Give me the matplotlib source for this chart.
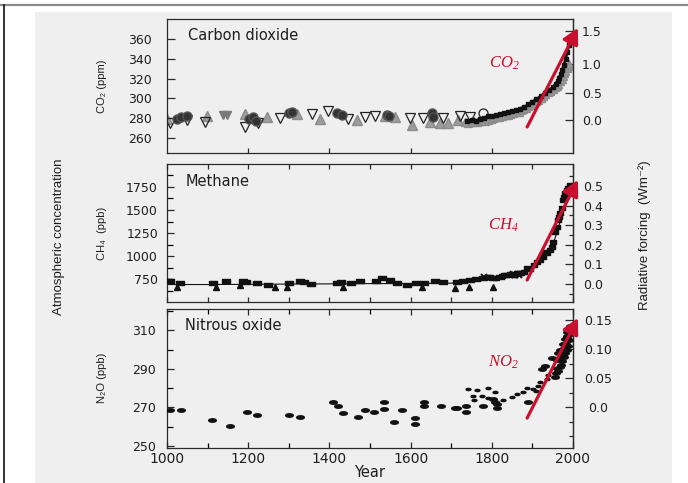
import numpy as np
import matplotlib
matplotlib.use("Agg")
import matplotlib.pyplot as plt
from matplotlib.path import Path
from matplotlib.transforms import Affine2D
from matplotlib.lines import Line2D
from matplotlib.patches import Rectangle
from matplotlib.ticker import MultipleLocator, FixedLocator

# ---------------------------------------------------------------- data
# Carbon dioxide (ppm)
co2_circle_year = [1025, 1035, 1049, 1203, 1212, 1219, 1300, 1308, 1419, 1430, 1541, 1548, 1653, 1656]
co2_circle_ppm = [279, 281, 282, 279, 281, 277, 285, 286, 285, 283, 283, 282, 285, 281]
co2_opentri_year = [1007, 1049, 1094, 1192, 1224, 1278, 1357, 1397, 1446, 1488, 1512,
                    1598, 1631, 1680, 1722, 1746]
co2_opentri_ppm = [275, 278, 276, 271, 275, 280, 284, 287, 279, 281, 282, 280, 280, 280, 282, 281]
co2_grayinv_year = [1138, 1148]
co2_grayinv_ppm = [283, 283]
co2_graytri_year = [1000, 1098, 1192, 1246, 1320, 1377, 1468, 1537, 1562, 1603, 1647, 1672, 1692, 1717]
co2_graytri_ppm = [279, 282, 284, 281, 284, 279, 278, 282, 281, 273, 276, 275, 275, 278]
co2_opencircle_year = [1778]
co2_opencircle_ppm = [285]
co2_recent_gray_year = [1735, 1742, 1750, 1757, 1763, 1770, 1776, 1783, 1790, 1797, 1804, 1811,
                        1818, 1825, 1832, 1839, 1846, 1853, 1860, 1866, 1872, 1878, 1884, 1890,
                        1896, 1902, 1908, 1914, 1920, 1926, 1932, 1938, 1944, 1950, 1955, 1960,
                        1964, 1968, 1972, 1975, 1978, 1981, 1984, 1987, 1990]
co2_recent_gray_ppm = [276, 275, 276, 277, 276, 277, 278, 277, 278, 279, 280, 281,
                       281, 282, 283, 283, 284, 285, 286, 286, 288, 289, 290, 292,
                       293, 295, 297, 298, 300, 302, 304, 306, 307, 309, 311, 313,
                       315, 318, 320, 323, 326, 328, 331, 333, 335]
co2_recent_black_year = [1740, 1750, 1760, 1770, 1780, 1790, 1800, 1810, 1820, 1830, 1840, 1850,
                         1860, 1870, 1880, 1890, 1900, 1910, 1920, 1930, 1940, 1950, 1958,
                         1962, 1966, 1970, 1974, 1978, 1982, 1986, 1990, 1994]
co2_recent_black_ppm = [277, 278, 277, 279, 280, 282, 282, 283, 284, 285, 286, 287,
                        288, 289, 291, 294, 296, 299, 302, 305, 308, 311, 315,
                        318, 321, 325, 329, 334, 340, 347, 354, 360]

# Methane (ppb)
ch4_square_year = [1002, 1008, 1032, 1113, 1145, 1187, 1195, 1221, 1249, 1301, 1328, 1337, 1354,
                   1419, 1428, 1453, 1475, 1516, 1529, 1549, 1566, 1590, 1614, 1634, 1660, 1681,
                   1714, 1730, 1746, 1762, 1779, 1790, 1803, 1820, 1832, 1853, 1869]
ch4_square_ppb = [728, 728, 707, 707, 728, 728, 720, 707, 685, 707, 728, 715, 696,
                  707, 718, 707, 728, 728, 761, 739, 707, 685, 707, 707, 728, 715,
                  717, 728, 739, 750, 761, 770, 761, 772, 794, 794, 815]
ch4_tri_year = [1024, 1121, 1180, 1266, 1295, 1434, 1628, 1710, 1743, 1803]
ch4_tri_ppb = [660, 660, 680, 660, 660, 660, 665, 655, 665, 665]
ch4_cross_year = [1780, 1851, 1858, 1866]
ch4_cross_ppb = [772, 806, 790, 795]
ch4_recent_year = [1795, 1810, 1825, 1835, 1845, 1855, 1862, 1870, 1880, 1887, 1895, 1905, 1911,
                   1918, 1926, 1931, 1937, 1943, 1948, 1951, 1956, 1960, 1963, 1966, 1968, 1972,
                   1975, 1978, 1981, 1985, 1988, 1992]
ch4_recent_ppb = [770, 760, 780, 790, 800, 795, 810, 820, 830, 870, 860, 900, 935,
                  960, 990, 1045, 1030, 1065, 1100, 1150, 1260, 1315, 1390, 1420, 1470, 1520,
                  1610, 1640, 1680, 1720, 1740, 1770]
ch4_fit_year = [1000, 1100, 1200, 1300, 1400, 1500, 1600, 1700, 1750, 1800, 1850, 1875, 1900,
                1925, 1950, 1960, 1970, 1980, 1990, 1995]
ch4_fit_ppb = [690, 690, 692, 695, 697, 700, 700, 705, 720, 745, 790, 830, 880,
               960, 1120, 1250, 1400, 1550, 1690, 1750]

# Nitrous oxide (ppb)
n2o_year = [1007, 1034, 1111, 1155, 1197, 1222, 1301, 1328, 1410, 1422, 1434, 1471, 1488, 1510,
            1535, 1535, 1559, 1579, 1611, 1611, 1633, 1633, 1675, 1709, 1714, 1736, 1736, 1778,
            1803, 1808, 1812, 1814, 1890]
n2o_ppb = [268.6, 268.6, 263.3, 260.4, 267.6, 265.9, 266.0, 264.9, 272.6, 270.5, 266.9, 264.9,
           268.5, 267.4, 272.6, 269.0, 262.3, 268.5, 264.4, 261.3, 272.6, 271.0, 271.0, 269.5,
           269.5, 270.5, 267.9, 271.0, 274.4, 272.8, 269.5, 271.6, 273.0]
n2o_small_year = [1741, 1754, 1757, 1763, 1776, 1791, 1791, 1808, 1828, 1850, 1863, 1877, 1887,
                  1902, 1908, 1914, 1919, 1936, 1938, 1953, 1971]
n2o_small_ppb = [279.5, 276.0, 274.0, 279.0, 276.0, 280.3, 275.0, 278.0, 274.0, 275.5, 277.0,
                 278.0, 280.3, 279.5, 278.7, 281.0, 283.0, 284.6, 287.0, 290.5, 291.3]
n2o_recent_year = [1923, 1931, 1948, 1955, 1958, 1960, 1962, 1964, 1966, 1967, 1968, 1970, 1972,
                   1973, 1974, 1975, 1976, 1977, 1978, 1979, 1980, 1981, 1982, 1984, 1984, 1985,
                   1986, 1987, 1988, 1990, 1990, 1992, 1993, 1993, 1994]
n2o_recent_ppb = [289.7, 291.3, 295.7, 286.0, 288.0, 294.8, 289.0, 298.4, 295.0, 291.0, 300.0,
                  292.0, 298.0, 294.0, 300.0, 297.0, 302.8, 296.0, 301.0, 299.0, 305.3, 298.0,
                  303.0, 300.0, 306.0, 308.9, 307.0, 302.0, 310.5, 305.0, 309.0, 311.5, 308.0,
                  312.0, 310.0]

# Red trend arrows: start/end year and value for each gas
arrow_year = [1887, 2012]
co2_arrow = [271.2, 371.0]
ch4_arrow = [739, 1826]
n2o_arrow = [264.5, 316.3]

# Tick values
co2_ticks = [260, 280, 300, 320, 340, 360]
ch4_ticks = [750, 1000, 1250, 1500, 1750]
ch4_minor = [625, 875, 1125, 1375, 1625, 1875]
n2o_ticks = [250, 270, 290, 310]
n2o_minor = [260, 280, 300, 320]
year_ticks = [1000, 1200, 1400, 1600, 1800, 2000]
co2_rf_ticks = [0.0, 0.5, 1.0, 1.5]
ch4_rf_ticks = [0.0, 0.1, 0.2, 0.3, 0.4, 0.5]
n2o_rf_ticks = [0.0, 0.05, 0.10, 0.15]
co2_rf_labels = ["0.0", "0.5", "1.0", "1.5"]
ch4_rf_labels = ["0.0", "0.1", "0.2", "0.3", "0.4", "0.5"]
n2o_rf_labels = ["0.0", "0.05", "0.10", "0.15"]

# ---------------------------------------------------------------- style
plt.rcParams["font.family"] = ["DejaVu Sans"]
# math text is only used for the red italic serif gas labels
plt.rcParams["mathtext.fontset"] = "custom"
plt.rcParams["mathtext.rm"] = "Liberation Serif:italic"
plt.rcParams["mathtext.it"] = "Liberation Serif:italic"
W, H = 688, 483
BG = "#efefef"
INK = "#1e1e1e"
SPINE = "#2a2a2a"
RED = "#c8102e"
SANS_LIST = ["Liberation Sans", "DejaVu Sans"]

fig = plt.figure(figsize=(W / 100, H / 100), dpi=100)
fig.patch.set_facecolor("white")

# page background and frame lines (kept underneath the axes)
fig.patches.append(Rectangle((35 / W, 0), (672 - 35) / W, 1 - 12 / H,
                             transform=fig.transFigure, facecolor=BG,
                             edgecolor="none", zorder=-10))
fig.lines.append(Line2D([0, 1], [1 - 5 / H, 1 - 5 / H], transform=fig.transFigure,
                        color="#8a8a8a", lw=1.6, zorder=-5))
fig.lines.append(Line2D([4 / W, 4 / W], [0, 1 - 5 / H], transform=fig.transFigure,
                        color="#111111", lw=1.2, zorder=-5))

ELLIPSE = Path.unit_circle().transformed(Affine2D().scale(1.0, 0.45))
RECT = Path([(-1, -0.65), (1, -0.65), (1, 0.65), (-1, 0.65), (-1, -0.65)],
            [Path.MOVETO, Path.LINETO, Path.LINETO, Path.LINETO, Path.CLOSEPOLY])

LEFT, RIGHT = 167, 573


def panel(top, bottom):
    ax = fig.add_axes([LEFT / W, 1 - bottom / H, (RIGHT - LEFT) / W, (bottom - top) / H])
    ax.set_facecolor(BG)
    for s in ax.spines.values():
        s.set_color(SPINE)
        s.set_linewidth(0.9)
    ax.set_xlim(1000, 2000)
    ax.tick_params(colors=SPINE, labelcolor=INK, width=0.9)
    return ax


def forcing_axis(ax, fwd, inv, ticks, labels, pad, minor=None):
    sec = ax.secondary_yaxis("right", functions=(fwd, inv))
    sec.spines["right"].set_color(SPINE)
    sec.spines["right"].set_linewidth(0.9)
    sec.yaxis.set_major_locator(FixedLocator(ticks))
    sec.set_yticklabels(labels)
    if minor is not None:
        sec.yaxis.set_minor_locator(FixedLocator(minor))
        sec.tick_params(which="minor", direction="in", length=3, width=0.9, colors=SPINE)
    sec.tick_params(which="major", direction="in", length=6, width=0.9, pad=pad,
                    labelsize=9, colors=SPINE, labelcolor=INK)
    for lab in sec.get_yticklabels():
        lab.set_horizontalalignment("center")
    return sec


def trend_arrow(ax, values, label, label_xy):
    ax.annotate("", xy=(arrow_year[1], values[1]), xytext=(arrow_year[0], values[0]),
                xycoords="data", textcoords="data", annotation_clip=False,
                arrowprops=dict(arrowstyle="-|>,head_length=0.85,head_width=0.45",
                                mutation_scale=11, color=RED, lw=2.3,
                                shrinkA=0, shrinkB=0), zorder=10)
    ax.text(label_xy[0], label_xy[1], label, color=RED, fontsize=12,
            ha="center", va="center", zorder=10)


# ---------------------------------------------------------------- carbon dioxide
ax1 = panel(19, 153)
ax1.set_ylim(245, 380)
ax1.plot(co2_recent_gray_year, co2_recent_gray_ppm, "^", color="#9c9c9c", ms=5.5, mec="#8c8c8c", zorder=2)
ax1.plot(co2_graytri_year, co2_graytri_ppm, "^", color="#9c9c9c", ms=6.5, mec="#8c8c8c", zorder=2)
ax1.plot(co2_grayinv_year, co2_grayinv_ppm, "v", color="#7a7a7a", ms=6, zorder=2)
ax1.plot(co2_opentri_year, co2_opentri_ppm, "v", mfc="none", mec="#222222", mew=0.9, ms=7.5, zorder=3)
ax1.plot(co2_circle_year, co2_circle_ppm, "o", color="#333333", mec="#555555", ms=6.5, zorder=3)
ax1.plot(co2_opencircle_year, co2_opencircle_ppm, "o", mfc="none", mec="#222222", mew=0.9, ms=6.5, zorder=3)
ax1.plot(co2_recent_black_year, co2_recent_black_ppm, "-", color="#111111", lw=2.0, zorder=4)
ax1.plot(co2_recent_black_year, co2_recent_black_ppm, "s", color="#111111", ms=2.5, zorder=4)
ax1.set_yticks(co2_ticks)
ax1.set_xticks([1200, 1400, 1600, 1800])
ax1.tick_params(axis="x", direction="in", length=3.5, labelbottom=False)
ax1.tick_params(axis="y", direction="in", length=6, pad=11, labelsize=9, right=False)
ax1.text(0.052, 0.88, "Carbon dioxide", transform=ax1.transAxes, fontsize=10.5,
         color=INK, va="center", ha="left")
forcing_axis(ax1,
             lambda c: 5.35 * np.log(np.clip(np.asarray(c, float), 1e-6, None) / 278.0),
             lambda f: 278.0 * np.exp(np.asarray(f, float) / 5.35),
             co2_rf_ticks, co2_rf_labels, pad=13.5)
trend_arrow(ax1, co2_arrow, "$CO_2$", (1830, 335.7))

# ---------------------------------------------------------------- methane
ax2 = panel(164, 302)
ax2.set_ylim(500, 2000)
ax2.plot(ch4_fit_year, ch4_fit_ppb, "-", color="#111111", lw=0.8, zorder=2)
ax2.plot(ch4_square_year, ch4_square_ppb, marker=RECT, ls="none", color="#111111", ms=5.5, zorder=3)
ax2.plot(ch4_tri_year, ch4_tri_ppb, "^", color="#111111", ms=4.5, zorder=3)
ax2.plot(ch4_cross_year, ch4_cross_ppb, "x", color="#111111", ms=5, mew=1.4, zorder=3)
ax2.plot(ch4_recent_year, ch4_recent_ppb, marker=RECT, ls="none", color="#111111", ms=5, zorder=3)
ax2.set_yticks(ch4_ticks)
ax2.yaxis.set_minor_locator(FixedLocator(ch4_minor))
ax2.xaxis.set_major_locator(MultipleLocator(100))
ax2.tick_params(axis="x", direction="in", length=3.5, top=True, bottom=True, labelbottom=False)
ax2.tick_params(axis="y", which="major", direction="in", length=5, pad=6.5, labelsize=9, right=False)
ax2.tick_params(axis="y", which="minor", direction="in", length=4, width=0.9, right=False)
ax2.text(0.047, 0.87, "Methane", transform=ax2.transAxes, fontsize=10.5,
         color=INK, va="center", ha="left")
forcing_axis(ax2, lambda c: (np.asarray(c, float) - 696.0) / 2130.0,
             lambda f: np.asarray(f, float) * 2130.0 + 696.0,
             ch4_rf_ticks, ch4_rf_labels, pad=14.5,
             minor=[-0.05, 0.05, 0.15, 0.25, 0.35, 0.45, 0.55])
trend_arrow(ax2, ch4_arrow, "$CH_4$", (1828, 1337))

# ---------------------------------------------------------------- nitrous oxide
ax3 = panel(309, 448)
ax3.set_ylim(249, 321)
ax3.plot(n2o_year, n2o_ppb, marker=ELLIPSE, ls="none", color="#111111", ms=5.5, zorder=3)
ax3.plot(n2o_small_year, n2o_small_ppb, marker=ELLIPSE, ls="none", color="#111111", ms=3.5, zorder=3)
ax3.plot(n2o_recent_year, n2o_recent_ppb, marker=ELLIPSE, ls="none", color="#111111", ms=5.5, zorder=3)
ax3.set_yticks(n2o_ticks)
ax3.yaxis.set_minor_locator(FixedLocator(n2o_minor))
ax3.set_xticks(year_ticks)
ax3.set_xticklabels([str(y) for y in year_ticks])
ax3.xaxis.set_minor_locator(MultipleLocator(100))
ax3.tick_params(axis="x", which="both", direction="in", top=True, bottom=True)
ax3.tick_params(axis="x", which="major", length=4, pad=3, labelsize=10)
ax3.tick_params(axis="x", which="minor", length=3.5, width=0.9)
ax3.tick_params(axis="y", which="major", direction="in", length=5, pad=8, labelsize=9, right=False)
ax3.tick_params(axis="y", which="minor", direction="in", length=4, width=0.9, right=False)
ax3.set_xlabel("Year", fontsize=10.5, color=INK, labelpad=-1)
ax3.text(0.044, 0.878, "Nitrous oxide", transform=ax3.transAxes, fontsize=10.5,
         color=INK, va="center", ha="left")
forcing_axis(ax3, lambda c: (np.asarray(c, float) - 270.1) / 300.7,
             lambda f: np.asarray(f, float) * 300.7 + 270.1,
             n2o_rf_ticks, n2o_rf_labels, pad=18,
             minor=[-0.05, -0.025, 0.025, 0.075, 0.125, 0.175])
trend_arrow(ax3, n2o_arrow, "$NO_2$", (1828, 293.4))

# ---------------------------------------------------------------- axis titles
for label, ycen in [("CO\u2082 (ppm)", 86), ("CH\u2084  (ppb)", 233), ("N\u2082O (ppb)", 378)]:
    fig.text(102 / W, 1 - ycen / H, label, rotation=90, ha="center", va="center",
             fontsize=8, family=SANS_LIST, color=INK)
fig.text(59 / W, 1 - 237 / H, "Atmospheric concentration", rotation=90, ha="center",
         va="center", fontsize=9.5, family=SANS_LIST, color=INK)
fig.text(645 / W, 1 - 235 / H, "Radiative forcing  (Wm\u207b\u00b2)", rotation=90,
         ha="center", va="center", fontsize=9.5, family=SANS_LIST, color=INK)

fig.savefig("out.png", dpi=100, facecolor="white")
